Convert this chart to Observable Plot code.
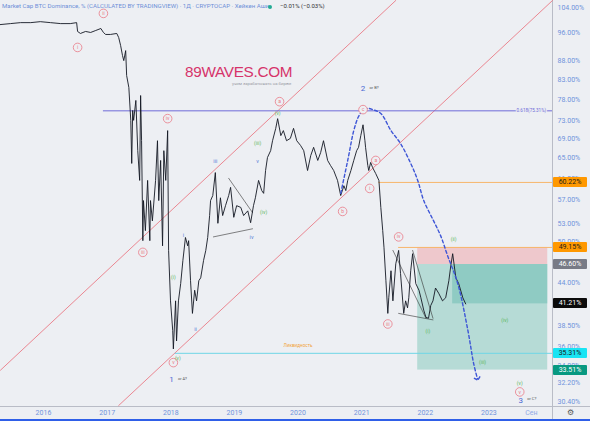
<!DOCTYPE html>
<html><head><meta charset="utf-8">
<script src="https://cdn.jsdelivr.net/npm/d3@7"></script>
<script src="https://cdn.jsdelivr.net/npm/@observablehq/plot@0.6"></script>
<style>
html,body{margin:0;padding:0;background:#edeff3;}
#wrap{position:relative;width:590px;height:421px;overflow:hidden;font-family:Roboto,"Liberation Sans",sans-serif;background:#edeff3;}
#wrap svg{position:absolute;left:0;top:0;}
.ov{position:absolute;white-space:nowrap;}
.tag{position:absolute;left:553px;width:34px;height:10px;font-size:7px;line-height:10px;text-align:center;border-radius:1px;}
</style></head>
<body><div id="wrap"></div>
<script>
// ---- data (decimal year, BTC dominance %) ----
const yearFrac = [2015.32,2015.48,2015.64,2015.80,2015.95,2016.11,2016.27,2016.42,2016.52,2016.535,2016.58,2016.66,2016.74,2016.82,2016.90,2016.94,2016.975,2017.05,2017.15,2017.18,2017.21,2017.24,2017.26,2017.29,2017.305,2017.34,2017.37,2017.385,2017.40,2017.415,2017.45,2017.48,2017.51,2017.525,2017.54,2017.56,2017.57,2017.60,2017.635,2017.67,2017.68,2017.71,2017.76,2017.79,2017.81,2017.84,2017.87,2017.89,2017.92,2017.95,2017.965,2017.995,2018.03,2018.04,2018.075,2018.09,2018.12,2018.155,2018.19,2018.23,2018.265,2018.28,2018.31,2018.34,2018.375,2018.405,2018.44,2018.47,2018.515,2018.55,2018.58,2018.61,2018.625,2018.66,2018.70,2018.74,2018.78,2018.815,2018.86,2018.91,2018.94,2018.99,2019.035,2019.10,2019.145,2019.21,2019.255,2019.30,2019.33,2019.38,2019.43,2019.46,2019.49,2019.52,2019.57,2019.60,2019.65,2019.68,2019.73,2019.77,2019.82,2019.88,2019.93,2019.98,2020.04,2020.09,2020.15,2020.20,2020.245,2020.31,2020.355,2020.40,2020.465,2020.51,2020.56,2020.62,2020.67,2020.72,2020.75,2020.78,2020.83,2020.875,2020.92,2020.95,2020.985,2021.02,2021.05,2021.06,2021.095,2021.11,2021.14,2021.17,2021.22,2021.27,2021.30,2021.33,2021.35,2021.38,2021.41,2021.425,2021.46,2021.49,2021.535,2021.58,2021.61,2021.66,2021.69,2021.72,2021.74,2021.77,2021.80,2021.85,2021.90,2021.93,2021.975,2022.01,2022.05,2022.085,2022.12,2022.16,2022.21,2022.27,2022.32,2022.37,2022.40,2022.43,2022.48,2022.525,2022.59,2022.635];
const dominance = [98.6,98.9,99.2,99.2,99.5,99.2,98.9,98.9,99.2,96.5,95.9,96.5,96.2,96.8,97.4,96.2,95.6,95.6,95.9,94.7,92.4,89.5,88.1,90.9,84.1,81.0,73.1,63.9,75.4,73.1,77.8,66.5,60.6,79.0,68.6,50.2,56.9,51.8,60.6,50.2,56.9,53.4,60.6,68.6,56.9,64.5,49.4,66.5,60.6,70.8,48.7,41.6,37.9,35.8,41.6,36.7,41.6,43.9,47.2,50.7,49.4,50.2,44.3,40.0,43.0,41.6,44.3,44.7,47.2,48.7,50.7,54.3,56.9,57.8,62.1,53.0,57.4,54.3,56.0,57.8,59.3,54.0,56.0,55.7,54.3,55.1,53.1,56.0,57.4,60.6,58.7,58.2,62.5,65.1,66.5,68.6,71.3,73.5,69.7,70.8,68.6,69.1,71.3,68.6,67.6,66.5,62.5,65.5,67.2,64.5,66.1,68.6,64.5,63.5,62.5,60.6,57.8,59.6,58.7,60.6,62.5,64.5,66.5,67.2,69.7,72.1,68.6,67.2,63.5,62.5,64.1,63.1,61.9,60.6,55.7,51.8,49.1,44.3,40.0,42.0,45.7,41.6,46.7,48.7,45.3,40.0,41.6,40.7,42.0,45.7,48.2,43.9,43.0,42.0,40.4,39.5,39.4,41.0,41.6,43.3,42.6,41.6,42.0,44.3,46.4,48.2,44.7,43.9,42.0,41.2];

// projected path (dashed)
const projYear = [2020.67,2020.78,2020.875,2020.95,2021.02,2021.095,2021.17,2021.30,2021.46,2021.61,2021.77,2021.88,2021.975,2022.13,2022.24,2022.35,2022.51,2022.67,2022.76,2022.82];
const projValue = [58.2,64.5,70.8,74.0,75.4,75.9,75.6,74.7,70.8,68.0,63.9,60.6,56.9,53.4,51.0,47.9,43.9,37.9,34.2,32.6];

// channel lines [start, end]
const channelUpperYear = [2015.324, 2021.535], channelUpperValue = [33.5, 106.3];
const channelLowerYear = [2017.18, 2024.0], channelLowerValue = [30.0, 106.3];

// horizontal levels
const levelNames = ["fib","orange1","orange2","cyan"];
const levelValues = [75.31, 60.22, 49.15, 35.31];
const levelStart = [2016.94, 2021.27, 2021.58, 2018.07];
const levelEnd = 2024.0;

// position tool zones
const zoneNames = ["stop","target","open"];
const zoneStart = [2021.88, 2021.88, 2022.43];
const zoneEnd = [2023.925, 2023.925, 2023.925];
const zoneLow = [46.60, 33.51, 41.21];
const zoneHigh = [49.15, 46.60, 46.60];

// triangle trend lines
const triYear1 = [2018.67, 2018.91, 2021.58, 2021.49, 2021.80];
const triVal1 = [50.8, 61.0, 40.0, 48.7, 48.7];
const triYear2 = [2019.285, 2019.285, 2022.12, 2022.01, 2022.12];
const triVal2 = [52.1, 54.8, 39.2, 39.4, 39.4];

// wave labels
const redText = ["ii","i","iv","iii","v","a","b","c","a","i","iv","iii","v"];
const redYear = [2016.94,2016.535,2017.95,2017.56,2018.04,2019.71,2020.70,2021.02,2021.22,2021.125,2021.58,2021.41,2023.485];
const redValue = [102.1,91.8,73.5,48.4,34.3,77.5,55.0,75.6,64.5,59.1,50.8,38.7,31.3];
const blueText = ["i","ii","iii","iv","v"];
const blueYear = [2018.20,2018.39,2018.70,2019.27,2019.365];
const blueValue = [51.0,38.1,64.3,50.8,64.3];
const greenText = ["(i)","(v)","(iii)","(iv)","(v)","(i)","(ii)","(iii)","(iv)","(v)"];
const greenYear = [2018.04,2018.11,2019.365,2019.46,2019.68,2022.04,2022.445,2022.90,2023.25,2023.485];
const greenValue = [44.7,34.8,68.0,54.8,74.7,37.8,50.4,34.3,39.1,32.1];
const bigText = ["2","1","3"];
const bigNote = ["or B?","or A?","or C?"];
const bigYear = [2021.02,2018.01,2023.50];
const bigValue = [80.7,32.5,30.5];

// axes
const yTicks = [104,96,88,83,78,73,69,65,61,57,53,50,44,38.5,36,34,32.2,30.4];
const yearTicks = [2016,2017,2018,2019,2020,2021,2022,2023];
const monthTick = [2023.667]; const monthLabel = "Сен";
const tagValues = [60.22,49.15,46.60,41.21,35.31,33.51];
const tagNames = ["orange","orange","grey","black","cyan","teal"];

// ---- styles ----
const C = {bg:"#edeff3", price:"#131722", red:"#ea7a86", blue:"#3d55d6", green:"#5cb85c",
  fib:"#6f6bd8", orange1:"#f7b66c", orange2:"#f7b66c", cyan:"#6fd6e6", axis:"#7093dc",
  stop:"#eec8cc", target:"#b6dbd6", open:"#8fcbc3"};
const tagStyle = {orange:["#ff9800","#1c1c1c"],grey:["#787b86","#fff"],black:["#0b0b0b","#fff"],cyan:["#18e4f4","#1a1a1a"],teal:["#089981","#fff"]};

const toDate = y => {const yr=Math.floor(y); const a=Date.UTC(yr,0,1), b=Date.UTC(yr+1,0,1); return new Date(a+(y-yr)*(b-a));};
const series = yearFrac.map((t,i)=>({date:toDate(t), value:dominance[i]}));
const proj = projYear.map((t,i)=>({date:toDate(t), value:projValue[i]}));
const mk = (ys,vs)=>ys.map((t,i)=>({date:toDate(t), value:vs[i]}));

const marks = [];
zoneNames.forEach((n,i)=>marks.push(Plot.rect([{x1:toDate(zoneStart[i]),x2:toDate(zoneEnd[i]),y1:zoneLow[i],y2:zoneHigh[i]}],{x1:"x1",x2:"x2",y1:"y1",y2:"y2",fill:C[n]})));
marks.push(Plot.line(mk(channelUpperYear,channelUpperValue),{x:"date",y:"value",stroke:C.red,strokeWidth:0.9}));
marks.push(Plot.line(mk(channelLowerYear,channelLowerValue),{x:"date",y:"value",stroke:C.red,strokeWidth:0.9}));
levelNames.forEach((n,i)=>marks.push(Plot.ruleY([levelValues[i]],{x1:toDate(levelStart[i]),x2:toDate(levelEnd),stroke:C[n],strokeWidth:1})));
marks.push(Plot.text([levelValues[0]],{x:toDate(2023.9),y:d=>d,text:d=>"0.618("+d.toFixed(2)+"%)",textAnchor:"end",fontSize:4.6,fill:C.fib,stroke:C.bg,strokeWidth:2}));
triYear1.forEach((t,i)=>marks.push(Plot.line(mk([t,triYear2[i]],[triVal1[i],triVal2[i]]),{x:"date",y:"value",stroke:"#333",strokeWidth:0.6})));
marks.push(Plot.line(series,{x:"date",y:"value",stroke:C.price,strokeWidth:0.9}));
marks.push(Plot.line(proj,{x:"date",y:"value",stroke:C.blue,strokeWidth:1.4,strokeDasharray:"3,2.5",curve:"catmull-rom",markerEnd:"arrow"}));
// labels
const redData = redText.map((t,i)=>({t,date:toDate(redYear[i]),value:redValue[i]}));
marks.push(Plot.dot(redData,{x:"date",y:"value",r:4.3,fill:C.bg,stroke:C.red,strokeWidth:0.8}));
marks.push(Plot.text(redData,{x:"date",y:"value",text:"t",fontSize:5,fill:C.red}));
marks.push(Plot.text(blueText.map((t,i)=>({t,date:toDate(blueYear[i]),value:blueValue[i]})),{x:"date",y:"value",text:"t",fontSize:5.5,fill:"#5b7fd8"}));
marks.push(Plot.text(greenText.map((t,i)=>({t,date:toDate(greenYear[i]),value:greenValue[i]})),{x:"date",y:"value",text:"t",fontSize:5,fill:C.green}));
const bigData = bigText.map((t,i)=>({t,n:bigNote[i],date:toDate(bigYear[i]),value:bigValue[i]}));
marks.push(Plot.text(bigData,{x:"date",y:"value",text:"t",fontSize:8,fill:"#4a68d4"}));
marks.push(Plot.text(bigData,{x:"date",y:"value",text:"n",fontSize:4,fill:"#555",dx:11,dy:-1}));
marks.push(Plot.text([36.2],{x:toDate(2020.0),y:d=>d,text:()=>"Ликвидность",fontSize:4.6,fill:"#f2a33a"}));
// axes
marks.push(Plot.axisY({anchor:"right",ticks:yTicks,tickSize:0,tickPadding:5,tickFormat:d=>d.toFixed(2)+"%",fontSize:7,color:C.axis}));
marks.push(Plot.axisX({anchor:"bottom",ticks:yearTicks.map(toDate),tickSize:0,tickPadding:5,tickFormat:d=>String(d.getUTCFullYear()),fontSize:7,color:C.axis}));
marks.push(Plot.axisX({anchor:"bottom",ticks:monthTick.map(toDate),tickSize:0,tickPadding:5,tickFormat:()=>monthLabel,fontSize:7,color:"#8fa9e6"}));

const plot = Plot.plot({
  width:590,height:421,marginTop:0,marginLeft:0,marginRight:38,marginBottom:16,
  style:{background:"transparent",fontFamily:"Roboto, 'Liberation Sans', sans-serif",overflow:"visible"},
  x:{type:"utc",domain:[toDate(2015.324),toDate(2024.0)],axis:null},
  y:{type:"log",domain:[30.0,106.3],axis:null},
  marks
});
const wrap = document.getElementById("wrap");
// separators
const sep = (css)=>{const d=document.createElement("div");d.className="ov";d.style.cssText=css;wrap.appendChild(d);};
sep("left:0;top:406px;width:590px;height:1px;background:#b9bcc6;");
sep("left:552px;top:0;width:1px;height:421px;background:#b9bcc6;");
sep("left:0;top:419px;width:590px;height:2px;background:#2f5fe8;");
wrap.appendChild(plot);
const ys = plot.scale("y");
tagValues.forEach((v,i)=>{const d=document.createElement("div");d.className="tag";const s=tagStyle[tagNames[i]];
  d.style.top=(ys.apply(v)-5)+"px";d.style.background=s[0];d.style.color=s[1];d.textContent=v.toFixed(2)+"%";wrap.appendChild(d);});
// header & watermark
const txt=(html,css)=>{const d=document.createElement("div");d.className="ov";d.style.cssText=css;d.innerHTML=html;wrap.appendChild(d);};
txt("Market Cap BTC Dominance, % (CALCULATED BY TRADINGVIEW) · 1Д · CRYPTOCAP · Хейкен Аши","left:2px;top:2px;font-size:6.1px;color:#6d8fd8;");
txt("","left:268px;top:5px;width:4px;height:4px;border-radius:2px;background:#22ab94;");
txt("−0.01% (−0.03%)","left:280px;top:2px;font-size:6px;color:#333;");
txt("89WAVES.COM","left:185px;top:63px;font-size:15.3px;color:#d6336a;font-family:'Liberation Sans',Arial,sans-serif;letter-spacing:-0.3px;");
txt("учим зарабатывать на бирже","left:232px;top:81px;font-size:4.3px;color:#9a9ca6;");
txt("⚙","left:567px;top:408px;font-size:8px;color:#555;font-family:'DejaVu Sans';");
</script>
</body></html>
